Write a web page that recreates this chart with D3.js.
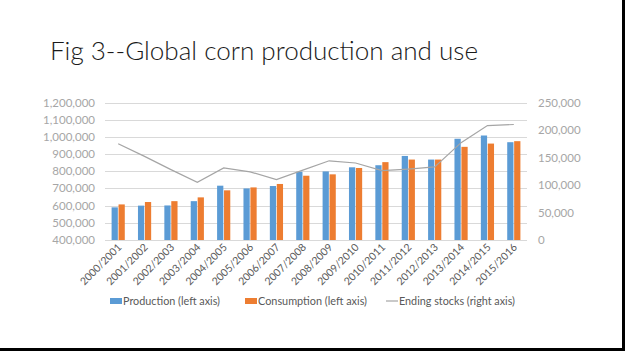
<!DOCTYPE html>
<html>
<head>
<meta charset="utf-8">
<script src="https://cdn.jsdelivr.net/npm/d3@7"></script>
<style>
  body { margin: 0; background: #fff; }
  svg { display: block; }
</style>
</head>
<body>
<svg id="chart"></svg>
<script>
let width = 625,
    height = 351,
    svg = d3.select("#chart").attr("width", width).attr("height", height);

// data (thousand tonnes)
const years = ["2000/2001", "2001/2002", "2002/2003", "2003/2004", "2004/2005", "2005/2006",
  "2006/2007", "2007/2008", "2008/2009", "2009/2010", "2010/2011", "2011/2012",
  "2012/2013", "2013/2014", "2014/2015", "2015/2016"];
const production = [590000, 600000, 601000, 626000, 716000, 700000, 714000, 797000,
  799000, 823000, 835000, 889000, 868000, 989000, 1008000, 969000];
const consumption = [607000, 621000, 626000, 648000, 689000, 706000, 726000, 774000,
  782000, 819000, 853000, 868000, 868000, 942000, 961000, 975000];
const endingStocks = [175000, 152000, 128000, 105000, 131000, 124000, 110000, 127000,
  144000, 140000, 126000, 129000, 133000, 177000, 208000, 210000];
const leftTicks = [400000, 500000, 600000, 700000, 800000, 900000, 1000000, 1100000, 1200000];
const rightTicks = [0, 50000, 100000, 150000, 200000, 250000];

const font = "Lato, 'Liberation Sans', Arial, sans-serif";
const blue = "#5b9bd5", orange = "#ed7d31", grey = "#a5a5a5";

let plotLeft = 105, plotRight = 527, plotTop = 102.5, plotBottom = 240;

let x0 = d3.scaleBand().domain(years).range([plotLeft, plotRight])
    .paddingInner(0.5).paddingOuter(0.25);
let x1 = d3.scaleBand().domain(["p", "c"]).range([0, x0.bandwidth()]).paddingInner(0.1);
let yLeft = d3.scaleLinear().domain([400000, 1200000]).range([plotBottom, plotTop]);
let yRight = d3.scaleLinear().domain([0, 250000]).range([plotBottom, plotTop]);

let fmt = d3.format(",");

// title
svg.append("text")
    .attr("x", 50)
    .attr("y", 59.5)
    .attr("font-family", font)
    .attr("font-size", 25)
    .attr("font-weight", 300)
    .attr("fill", "#1a1a1a")
    .attr("textLength", 428)
    .attr("lengthAdjust", "spacingAndGlyphs")
    .text("Fig 3--Global corn production and use");

// gridlines
svg.selectAll(".grid")
    .data(leftTicks)
    .enter()
    .append("line")
    .attr("x1", plotLeft)
    .attr("x2", plotRight)
    .attr("y1", d => Math.round(yLeft(d)) + 0.5)
    .attr("y2", d => Math.round(yLeft(d)) + 0.5)
    .attr("stroke", "#d9d9d9")
    .attr("stroke-width", 1);

// left axis labels
svg.selectAll(".lt")
    .data(leftTicks)
    .enter()
    .append("text")
    .attr("x", 95)
    .attr("y", d => yLeft(d))
    .attr("dy", "0.35em")
    .attr("text-anchor", "end")
    .attr("font-family", font)
    .attr("font-size", 11.5)
    .attr("fill", "#a6a6a6")
    .text(d => fmt(d));

// right axis labels
svg.selectAll(".rt")
    .data(rightTicks)
    .enter()
    .append("text")
    .attr("x", 538)
    .attr("y", d => yRight(d))
    .attr("dy", "0.35em")
    .attr("text-anchor", "start")
    .attr("font-family", font)
    .attr("font-size", 11.5)
    .attr("fill", "#a6a6a6")
    .text(d => fmt(d));

// bars
svg.selectAll(".prod")
    .data(years)
    .enter()
    .append("rect")
    .attr("x", (d) => x0(d) + x1("p"))
    .attr("y", (d, i) => yLeft(production[i]))
    .attr("width", x1.bandwidth())
    .attr("height", (d, i) => plotBottom - yLeft(production[i]))
    .attr("fill", blue);

svg.selectAll(".cons")
    .data(years)
    .enter()
    .append("rect")
    .attr("x", (d) => x0(d) + x1("c"))
    .attr("y", (d, i) => yLeft(consumption[i]))
    .attr("width", x1.bandwidth())
    .attr("height", (d, i) => plotBottom - yLeft(consumption[i]))
    .attr("fill", orange);

// ending stocks line
let line = d3.line()
    .x((d, i) => x0(years[i]) + x0.bandwidth() / 2)
    .y(d => yRight(d));

svg.append("path")
    .datum(endingStocks)
    .attr("d", line)
    .attr("fill", "none")
    .attr("stroke", grey)
    .attr("stroke-width", 1.2);

// x labels, rotated
svg.selectAll(".xl")
    .data(years)
    .enter()
    .append("text")
    .attr("transform", d => "translate(" + (x0(d) + x0.bandwidth() / 2 + 4) + "," + 248 + ") rotate(-45)")
    .attr("text-anchor", "end")
    .attr("font-family", font)
    .attr("font-size", 10.5)
    .attr("fill", "#595959")
    .text(d => d);

// legend
let legend = [
    {label: "Production (left axis)", x: 110, w: 97, type: "box", color: blue},
    {label: "Consumption (left axis)", x: 245, w: 109, type: "box", color: orange},
    {label: "Ending stocks (right axis)", x: 386, w: 116, type: "line", color: grey}
];

legend.forEach(function (l) {
    if (l.type === "box") {
        svg.append("rect")
            .attr("x", l.x)
            .attr("y", 298)
            .attr("width", 12)
            .attr("height", 6)
            .attr("fill", l.color);
    } else {
        svg.append("line")
            .attr("x1", l.x)
            .attr("x2", l.x + 12)
            .attr("y1", 301)
            .attr("y2", 301)
            .attr("stroke", l.color)
            .attr("stroke-width", 1.2);
    }
    svg.append("text")
        .attr("x", l.x + 13)
        .attr("y", 305)
        .attr("font-family", font)
        .attr("font-size", 11)
        .attr("fill", "#595959")
        .attr("textLength", l.w)
        .attr("lengthAdjust", "spacingAndGlyphs")
        .text(l.label);
});

// slide border on right and bottom
svg.append("rect").attr("x", 622).attr("y", 0).attr("width", 3).attr("height", height).attr("fill", "#000");
svg.append("rect").attr("x", 0).attr("y", 348).attr("width", width).attr("height", 3).attr("fill", "#000");
</script>
</body>
</html>
